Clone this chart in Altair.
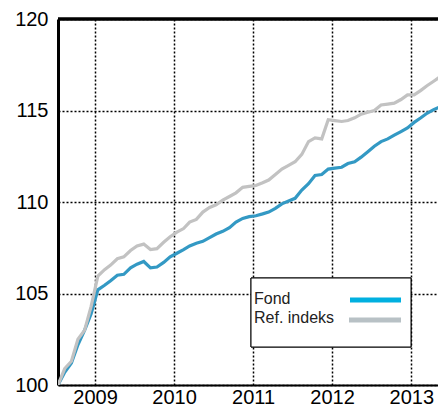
import altair as alt
import pandas as pd

# monthly observations, mid-July 2008 to June 2013
dates = pd.date_range("2008-07-14", periods=60, freq=pd.DateOffset(months=1))

fond = [100.0, 100.7, 101.2, 102.2, 103.0, 103.9, 105.2, 105.45, 105.7, 106.0,
        106.05, 106.4, 106.6, 106.75, 106.4, 106.45, 106.7, 107.0, 107.2, 107.4,
        107.6, 107.75, 107.85, 108.05, 108.25, 108.4, 108.6, 108.9, 109.1, 109.2,
        109.25, 109.35, 109.45, 109.65, 109.9, 110.05, 110.2, 110.65, 111.0, 111.45,
        111.5, 111.8, 111.85, 111.9, 112.1, 112.2, 112.45, 112.75, 113.05, 113.3,
        113.45, 113.65, 113.85, 114.05, 114.35, 114.6, 114.85, 115.05, 115.2, 115.25]

ref = [100.0, 100.9, 101.3, 102.5, 103.0, 104.3, 105.95, 106.3, 106.55, 106.9,
       107.0, 107.35, 107.6, 107.7, 107.4, 107.45, 107.8, 108.1, 108.35, 108.55,
       108.9, 109.05, 109.45, 109.7, 109.85, 110.1, 110.3, 110.5, 110.8, 110.85,
       110.9, 111.05, 111.2, 111.5, 111.8, 112.0, 112.2, 112.6, 113.3, 113.5,
       113.45, 114.5, 114.45, 114.4, 114.45, 114.6, 114.8, 114.9, 115.0, 115.3,
       115.35, 115.4, 115.6, 115.85, 115.85, 116.1, 116.35, 116.6, 116.85, 116.85]

series_names = ["Fond", "Ref. indeks"]
line_colors = ["#3399c4", "#c2c2c2"]
legend_colors = ["#00b0e0", "#b8c1c5"]
y_ticks = [100, 105, 110, 115, 120]
x_domain = ["2008-07-14", "2013-05-04"]

W, H = 380, 366

df = pd.DataFrame({
    "date": list(dates) * 2,
    "value": fond + ref,
    "series": [series_names[0]] * len(fond) + [series_names[1]] * len(ref),
})

x_enc = alt.X("date:T",
              scale=alt.Scale(domain=x_domain, nice=False),
              axis=alt.Axis(format="%Y", tickCount="year", title=None,
                            labelFontSize=20, labelFont="Liberation Sans",
                            labelColor="black", labelPadding=2, ticks=False,
                            domainColor="black", domainWidth=2,
                            grid=True, gridColor="black", gridDash=[2, 2],
                            gridWidth=1.5, gridOpacity=1, labelFlush=False))
y_enc = alt.Y("value:Q",
              scale=alt.Scale(domain=[100, 120], nice=False, zero=False),
              axis=alt.Axis(values=y_ticks, title=None, labelFontSize=20,
                            labelFont="Liberation Sans", labelColor="black",
                            labelPadding=10, ticks=False, domainColor="black",
                            domainWidth=3, grid=True, gridColor="black",
                            gridDash=[2, 2], gridWidth=1.5, gridOpacity=1))

lines = alt.Chart(df).mark_line(strokeWidth=3.2, clip=True).encode(
    x=x_enc, y=y_enc,
    color=alt.Color("series:N", scale=alt.Scale(domain=series_names, range=line_colors),
                    legend=None),
)

leg_df = pd.DataFrame({"label": series_names})

top_border = alt.Chart(leg_df).mark_rule(color="black", strokeWidth=3).encode(
    x=alt.value(0), x2=alt.value(W), y=alt.value(0))

box = alt.Chart(leg_df).mark_rect(fill="white", stroke="black", strokeWidth=1).encode(
    x=alt.value(193), x2=alt.value(353), y=alt.value(259), y2=alt.value(328))

font_leg = "Liberation Sans"
t1 = alt.Chart(leg_df).transform_filter(alt.datum.label == series_names[0]).mark_text(
    align="left", baseline="alphabetic", fontSize=16, font=font_leg, color="#222").encode(
    x=alt.value(196), y=alt.value(285), text="label:N")
t2 = alt.Chart(leg_df).transform_filter(alt.datum.label == series_names[1]).mark_text(
    align="left", baseline="alphabetic", fontSize=16, font=font_leg, color="#222").encode(
    x=alt.value(196), y=alt.value(304), text="label:N")

s1 = alt.Chart(leg_df).transform_filter(alt.datum.label == series_names[0]).mark_rule(
    strokeWidth=5, color=legend_colors[0]).encode(
    x=alt.value(292), x2=alt.value(343), y=alt.value(281))
s2 = alt.Chart(leg_df).transform_filter(alt.datum.label == series_names[1]).mark_rule(
    strokeWidth=5, color=legend_colors[1]).encode(
    x=alt.value(291), x2=alt.value(343), y=alt.value(301))

chart = alt.layer(lines, top_border, box, t1, t2, s1, s2).properties(
    width=W, height=H,
    autosize=alt.AutoSizeParams(type="none"),
    padding={"left": 50, "top": 11, "right": 0, "bottom": 25},
    background="white",
).configure_view(stroke=None)

chart.save("out.html", embed_options={"renderer": "svg", "actions": False})
